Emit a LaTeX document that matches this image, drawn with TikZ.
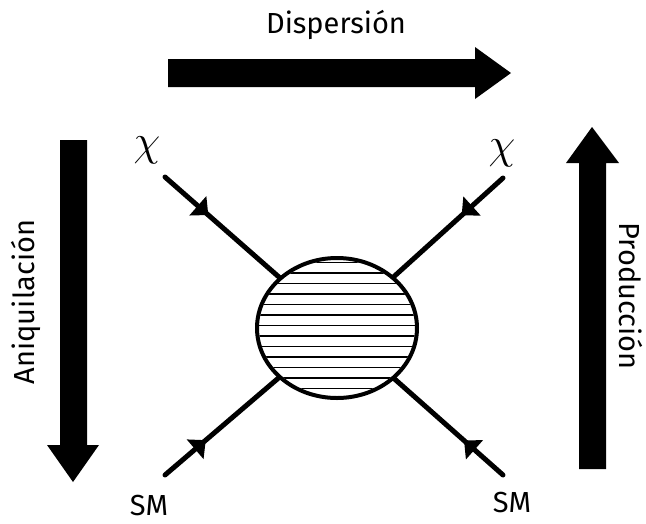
\documentclass[tikz,border=0pt]{standalone}
\usepackage{fontspec}
\setmainfont{Fira Sans}
\usetikzlibrary{shapes.geometric,arrows.meta,decorations.markings}
\tikzset{
  bigarrow/.style={fill=black,draw=none},
  lbl/.style={inner sep=0pt,font=\fontsize{29}{29}\selectfont},
  chilbl/.style={inner sep=0pt,font=\fontsize{20}{20}\selectfont,scale=2.1},
  prop/.style={line width=5pt,line cap=round},
  fermion at/.style={postaction={decorate},decoration={markings,
    mark=at position #1 with {\arrow{Triangle[width=25pt,length=14pt]}}}},
  fermion back at/.style={postaction={decorate},decoration={markings,
    mark=at position #1 with {\arrowreversed{Triangle[width=25pt,length=14pt]}}}},
  blobstyle/.style={ellipse,draw,line width=4pt,minimum width=160pt,minimum height=140pt,inner sep=0pt}
}
\begin{document}
\begin{tikzpicture}[x=1pt,y=-1pt]
\useasboundingbox (0,0) rectangle (646,523);
% big arrows
\fill[bigarrow] (168,59) -- (475,59) -- (475,47) -- (511,73) -- (475,99) -- (475,87) -- (168,87) -- cycle;
\fill[bigarrow] (60,140) -- (87,140) -- (87,445) -- (99,445) -- (73,482) -- (47,445) -- (60,445) -- cycle;
\fill[bigarrow] (579,469) -- (606,469) -- (606,163) -- (619,163) -- (592,127) -- (566,163) -- (579,163) -- cycle;
% labels
\node[lbl] (disp) at (336,25) {Dispersión};
\node[lbl,rotate=90] (ani) at (26,302) {Aniquilación};
\node[lbl,rotate=-90] (prod) at (631,296) {Producción};
% blob
\node[blobstyle] (blob) at (337,328) {};
\begin{scope}
\clip (337,328) ellipse [x radius=78pt, y radius=68pt];
\foreach \k in {-1,...,12} {
  \draw[line width=1.3pt] (250,273+10.5*\k) -- (430,273+10.5*\k);
}
\end{scope}
% external points
\coordinate (ul) at (165,177);
\coordinate (ur) at (503,178);
\coordinate (ll) at (165,475);
\coordinate (lr) at (503,475);
\draw[prop,fermion at=0.38] (ul) -- (blob);
\draw[prop,fermion back at=0.62] (blob) -- (ur);
\draw[prop,fermion at=0.36] (ll) -- (blob);
\draw[prop,fermion at=0.36] (lr) -- (blob);
% particle labels
\node[chilbl] (chi1) at (147,150) {$\chi$};
\node[chilbl] (chi2) at (502,153) {$\chi$};
\node[lbl] (sm1) at (149,506) {SM};
\node[lbl] (sm2) at (512,503) {SM};
\end{tikzpicture}
\end{document}
